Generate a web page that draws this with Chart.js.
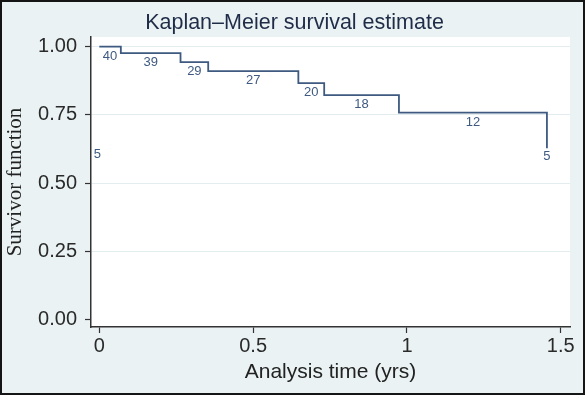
<!DOCTYPE html>
<html>
<head>
<meta charset="utf-8">
<script src="https://cdn.jsdelivr.net/npm/chart.js@4.4.1/dist/chart.umd.min.js"></script>
<style>
  html, body { margin: 0; padding: 0; background: #eaf2f3; }
  #frame { width: 585px; height: 395px; box-sizing: border-box; border: 2px solid #151515; background: #eaf2f3; }
  canvas { display: block; }
</style>
</head>
<body>
<div id="frame"><canvas id="km" width="581" height="391"></canvas></div>
<script>
// KM step points: time (yrs) where each step starts, and survivor value from there on
const times = [0, 0.070, 0.264, 0.354, 0.647, 0.731, 0.974, 1.455];
const survival = [1.000, 0.976, 0.943, 0.910, 0.866, 0.822, 0.758, 0.628];
// number at risk printed under each step
const atRisk = ['40', '39', '29', '27', '20', '18', '12', '5'];
// stray label near the y axis
const sideLabel = ['5'];
const sideLabelAt = [-0.006, 0.606];

const xTicks = [0, 0.5, 1, 1.5];
const yTicks = [0, 0.25, 0.5, 0.75, 1];

const lineColor = '#3e5a80';
const sans = '"Liberation Sans", Arial, Helvetica, sans-serif';
const serif = '"Liberation Serif", "Times New Roman", serif';

const stataFrame = {
  id: 'stataFrame',
  beforeDraw(chart) {
    const { ctx, chartArea: a } = chart;
    ctx.save();
    ctx.fillStyle = '#eaf2f3';
    ctx.fillRect(0, 0, chart.width, chart.height);
    ctx.fillStyle = '#ffffff';
    ctx.fillRect(a.left, a.top, a.right - a.left, a.bottom - a.top);
    ctx.restore();
  },
  afterDatasetsDraw(chart) {
    const { ctx, scales: { x, y } } = chart;
    ctx.save();
    ctx.font = '13px ' + sans;
    ctx.fillStyle = lineColor;
    ctx.textAlign = 'center';
    ctx.textBaseline = 'middle';
    atRisk.forEach((txt, i) => {
      const last = i === times.length - 1;
      const t = last ? times[i] : (times[i] + times[i + 1]) / 2;
      ctx.fillText(txt, x.getPixelForValue(t), y.getPixelForValue(survival[i]) + (last ? 8.5 : 9.5));
    });
    ctx.fillText(sideLabel[0], x.getPixelForValue(sideLabelAt[0]), y.getPixelForValue(sideLabelAt[1]));
    ctx.restore();
  },
  afterDraw(chart) {
    const ctx = chart.ctx;
    ctx.save();
    ctx.font = '21.5px ' + sans;
    ctx.fillStyle = '#1f2c48';
    ctx.textAlign = 'center';
    ctx.textBaseline = 'alphabetic';
    ctx.fillText('Kaplan\u2013Meier survival estimate', chart.width / 2 + 2, 26.5);
    ctx.restore();
  }
};

new Chart(document.getElementById('km'), {
  type: 'line',
  data: {
    datasets: [{
      data: times.map((t, i) => ({ x: t, y: survival[i] })),
      stepped: 'before',
      borderColor: lineColor,
      borderWidth: 1.8,
      pointRadius: 0,
      fill: false
    }]
  },
  options: {
    responsive: false,
    animation: false,
    layout: { padding: { top: 35, right: 13, left: 0, bottom: 0 } },
    plugins: {
      legend: { display: false },
      tooltip: { enabled: false },
      title: { display: false }
    },
    scales: {
      x: {
        type: 'linear',
        min: -0.027,
        max: 1.53,
        afterBuildTicks: s => { s.ticks = xTicks.map(v => ({ value: v })); },
        afterFit: s => { s.height = 66; },
        ticks: {
          font: { family: sans, size: 20 },
          color: '#2a2a2a',
          padding: 1,
          maxRotation: 0,
          callback: v => String(v)
        },
        grid: { drawOnChartArea: false, drawTicks: true, tickLength: 6, tickColor: '#333', tickWidth: 1.2 },
        border: { display: true, color: '#333', width: 1.5 },
        title: {
          display: true,
          text: 'Analysis time (yrs)',
          font: { family: sans, size: 21 },
          color: '#222',
          padding: { top: 0, bottom: 8 }
        }
      },
      y: {
        min: -0.027,
        max: 1.035,
        afterBuildTicks: s => { s.ticks = yTicks.map(v => ({ value: v })); },
        afterFit: s => { s.width = 89; },
        ticks: {
          font: { family: sans, size: 20 },
          color: '#2a2a2a',
          padding: 8,
          callback: v => v.toFixed(2)
        },
        grid: {
          color: c => (c.tick && c.tick.value === 0 ? 'rgba(0,0,0,0)' : '#e3ecef'),
          lineWidth: 1,
          drawTicks: true,
          tickLength: 6,
          tickColor: '#333',
          tickWidth: 1.2
        },
        border: { display: true, color: '#333', width: 1.5 },
        title: {
          display: true,
          text: 'Survivor function',
          font: { family: serif, size: 21 },
          color: '#222',
          padding: { top: 1, bottom: 0 }
        }
      }
    }
  },
  plugins: [stataFrame]
});
</script>
</body>
</html>
